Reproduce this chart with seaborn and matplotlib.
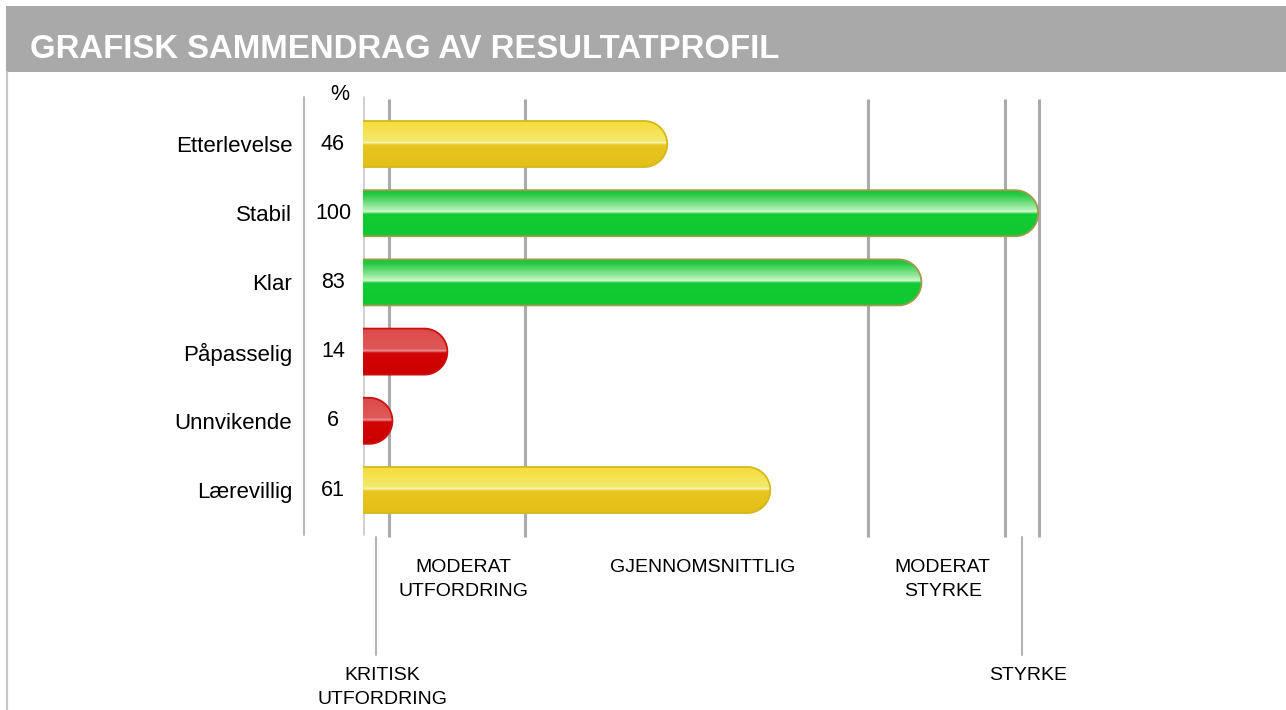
#!/usr/bin/env python3
# Result profile summary: glossy horizontal bars with band lines

import numpy as np
import pandas as pd
import matplotlib
matplotlib.use("Agg")
import matplotlib.pyplot as plt
from matplotlib.colors import to_rgb
from matplotlib.patches import Rectangle, PathPatch
from matplotlib.path import Path
from matplotlib.lines import Line2D
import seaborn as sns

title = "GRAFISK SAMMENDRAG AV RESULTATPROFIL"
categories = ["Etterlevelse", "Stabil", "Klar", "Påpasselig", "Unnvikende", "Lærevillig"]
scores = [46, 100, 83, 14, 6, 61]

# band borders (percent) and their names
band_edges = [5.5, 25.3, 75.2, 95.2, 100.1]
band_names = ["KRITISK\nUTFORDRING", "MODERAT\nUTFORDRING", "GJENNOMSNITTLIG",
              "MODERAT\nSTYRKE", "STYRKE"]

# gradient stops (fraction from top of bar, colour)
gloss = {
    "red": [(0, "#dc4a4a"), (0.45, "#e05858"), (0.48, "#ec9c9c"), (0.53, "#d20404"), (1, "#cc0000")],
    "yellow": [(0, "#f7db36"), (0.45, "#f2ea6e"), (0.48, "#fbf7c2"), (0.53, "#e8c620"), (1, "#e3c017")],
    "green": [(0, "#10c02e"), (0.12, "#28ca44"), (0.45, "#b8f3b8"), (0.48, "#dafcda"), (0.53, "#12cc33"), (1, "#10c832")],
}
edge_col = {"red": "#cc1010", "yellow": "#d6b81e", "green": "#9c9c4a"}


def bar_kind(v):
    if v < band_edges[1]:
        return "red"
    if v < band_edges[2]:
        return "yellow"
    return "green"


def gradient(kind, n=200):
    stops = gloss[kind]
    t = np.linspace(0, 1, n)
    pos = [s[0] for s in stops]
    cols = np.array([to_rgb(s[1]) for s in stops])
    rgb = np.stack([np.interp(t, pos, cols[:, k]) for k in range(3)], axis=-1)
    return rgb[:, None, :]


W, H = 1286, 710
sns.set_theme(style="white")
plt.rcParams["font.family"] = ["Liberation Sans", "DejaVu Sans"]

fig = plt.figure(figsize=(W / 100, H / 100), dpi=100)
fig.patch.set_facecolor("white")

# header band and left frame line
fig.add_artist(Rectangle((6 / W, 1 - 72 / H), 1 - 6 / W, 66 / H,
                         transform=fig.transFigure, color="#a9a9a9", lw=0))
fig.text(30 / W, 1 - 50 / H, title, color="white", fontsize=23.7,
         fontweight="bold", va="center", ha="left")
fig.add_artist(Line2D([6.5 / W, 6.5 / W], [0, 1 - 72 / H],
                      transform=fig.transFigure, color="#c8c8c8", lw=1.5))

ax = fig.add_axes([363 / W, 0, (W - 363) / W, 630 / H])

df = pd.DataFrame({"trait": categories, "score": scores})
df["kind"] = [bar_kind(v) for v in scores]
pal = {c: gloss[k][-1][1] for c, k in zip(df["trait"], df["kind"])}
sns.barplot(data=df, x="score", y="trait", hue="trait", palette=pal,
            legend=False, orient="h", width=0.665, ax=ax, zorder=3)

xl0, xl1 = 1.718, 136.07
ax.set_xlim(xl0, xl1)
ax.set_ylim(8.179, -0.925)
for s in ax.spines.values():
    s.set_visible(False)
ax.set_xticks([])
ax.set_xlabel("")
ax.set_ylabel("")
ax.tick_params(axis="y", length=0, pad=51, labelsize=16, labelcolor="black")

# grid / band lines
ax.vlines(band_edges, -0.65, 5.68, color="#aaaaaa", lw=2.2, zorder=1)
ax.plot([xl0 + 0.08] * 2, [-0.68, 5.65], color="#c8c8c8", lw=1.2, clip_on=False, zorder=1)
ax.plot([-6.87] * 2, [-0.68, 5.65], color="#b8b8b8", lw=1.5, clip_on=False)
ax.text(-1.63, -0.72, "%", ha="center", va="center", fontsize=15.5, color="black")

p0 = ax.transData.transform((0, 0))
p1 = ax.transData.transform((1, 1))
sx, sy = abs(p1[0] - p0[0]), abs(p1[1] - p0[1])

for patch, v, kind in zip(list(ax.patches), df["score"], df["kind"]):
    y, h = patch.get_y(), patch.get_height()
    x_end = patch.get_x() + patch.get_width()
    patch.set_visible(False)
    ya, yb, yc = y, y + h, y + h / 2
    rx = (h / 2) * sy / sx
    xc = x_end - rx
    t = np.linspace(-np.pi / 2, np.pi / 2, 60)
    arc = np.column_stack([xc + rx * np.cos(t), yc + (h / 2) * np.sin(t)])
    pts = np.vstack([[xl0, ya], [xc, ya], arc, [xc, yb], [xl0, yb]])
    clip = PathPatch(Path(np.vstack([pts, pts[:1]]), closed=True),
                     facecolor="none", edgecolor="none")
    ax.add_patch(clip)
    im = ax.imshow(gradient(kind), extent=(xl0, x_end, yb, ya), aspect="auto",
                   origin="upper", interpolation="bilinear", zorder=3)
    im.set_clip_path(clip)
    ax.plot(pts[:, 0], pts[:, 1], color=edge_col[kind], lw=1.3, zorder=4)
    ax.text(-2.65, yc, f"{v}", ha="center", va="center", fontsize=15.5, color="black")

ax.set_xlim(xl0, xl1)
ax.set_ylim(8.179, -0.925)

# band labels under the chart
lefts = [xl0] + band_edges[:-1]
for i, (a, b, name) in enumerate(zip(lefts, band_edges, band_names)):
    mid = (a + b) / 2
    low = i in (0, len(band_names) - 1)
    if low:
        ax.plot([mid, mid], [5.68, 7.38], color="#b4b4b4", lw=1.5, clip_on=False)
    ax.text(mid + 0.9, 7.56 if low else 6.0, name, ha="center", va="top",
            fontsize=14, linespacing=1.55, color="black", clip_on=False)

fig.savefig("out.png", dpi=100)
